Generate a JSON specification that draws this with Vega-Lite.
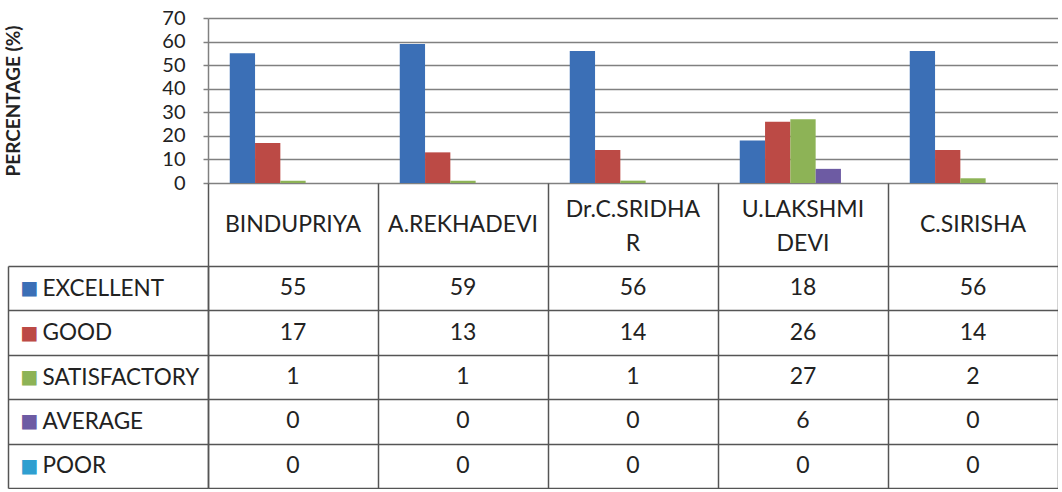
{
  "$schema": "https://vega.github.io/schema/vega-lite/v6.json",
  "padding": {"left": 4, "top": 8, "right": 0, "bottom": 0},
  "background": "white",
  "config": {"font": "Lato", "view": {"stroke": null}},
  "datasets": {
    "scores": [
      {"category": "BINDUPRIYA", "series": "EXCELLENT", "value": 55},
      {"category": "BINDUPRIYA", "series": "GOOD", "value": 17},
      {"category": "BINDUPRIYA", "series": "SATISFACTORY", "value": 1},
      {"category": "BINDUPRIYA", "series": "AVERAGE", "value": 0},
      {"category": "BINDUPRIYA", "series": "POOR", "value": 0},
      {"category": "A.REKHADEVI", "series": "EXCELLENT", "value": 59},
      {"category": "A.REKHADEVI", "series": "GOOD", "value": 13},
      {"category": "A.REKHADEVI", "series": "SATISFACTORY", "value": 1},
      {"category": "A.REKHADEVI", "series": "AVERAGE", "value": 0},
      {"category": "A.REKHADEVI", "series": "POOR", "value": 0},
      {"category": "Dr.C.SRIDHAR", "series": "EXCELLENT", "value": 56},
      {"category": "Dr.C.SRIDHAR", "series": "GOOD", "value": 14},
      {"category": "Dr.C.SRIDHAR", "series": "SATISFACTORY", "value": 1},
      {"category": "Dr.C.SRIDHAR", "series": "AVERAGE", "value": 0},
      {"category": "Dr.C.SRIDHAR", "series": "POOR", "value": 0},
      {"category": "U.LAKSHMI DEVI", "series": "EXCELLENT", "value": 18},
      {"category": "U.LAKSHMI DEVI", "series": "GOOD", "value": 26},
      {"category": "U.LAKSHMI DEVI", "series": "SATISFACTORY", "value": 27},
      {"category": "U.LAKSHMI DEVI", "series": "AVERAGE", "value": 6},
      {"category": "U.LAKSHMI DEVI", "series": "POOR", "value": 0},
      {"category": "C.SIRISHA", "series": "EXCELLENT", "value": 56},
      {"category": "C.SIRISHA", "series": "GOOD", "value": 14},
      {"category": "C.SIRISHA", "series": "SATISFACTORY", "value": 2},
      {"category": "C.SIRISHA", "series": "AVERAGE", "value": 0},
      {"category": "C.SIRISHA", "series": "POOR", "value": 0}
    ],
    "header": [
      {"category": "BINDUPRIYA", "label": "BINDUPRIYA", "lines": 1},
      {"category": "A.REKHADEVI", "label": "A.REKHADEVI", "lines": 1},
      {"category": "Dr.C.SRIDHAR", "label": "Dr.C.SRIDHA\nR", "lines": 2},
      {"category": "U.LAKSHMI DEVI", "label": "U.LAKSHMI\nDEVI", "lines": 2},
      {"category": "C.SIRISHA", "label": "C.SIRISHA", "lines": 1}
    ]
  },
  "spacing": 0,
  "bounds": "flush",
  "vconcat": [
    {
      "width": 850,
      "height": 165,
      "data": {"name": "scores"},
      "mark": {"type": "bar"},
      "encoding": {
        "x": {"field": "category", "type": "nominal", "sort": null,
              "scale": {"domain": ["BINDUPRIYA", "A.REKHADEVI", "Dr.C.SRIDHAR", "U.LAKSHMI DEVI", "C.SIRISHA"], "paddingInner": 0, "paddingOuter": 0},
              "axis": null},
        "xOffset": {"field": "series", "type": "nominal",
                    "scale": {"domain": ["EXCELLENT", "GOOD", "SATISFACTORY", "AVERAGE", "POOR"], "paddingInner": 0, "paddingOuter": 0.86}},
        "y": {"field": "value", "type": "quantitative",
              "scale": {"domain": [0, 70], "nice": false},
              "axis": {"values": [0, 10, 20, 30, 40, 50, 60, 70], "grid": true, "gridColor": "#808080", "gridWidth": 1.5,
                       "domain": true, "domainColor": "#808080", "domainWidth": 1.5,
                       "ticks": true, "tickColor": "#808080", "tickSize": 5, "tickWidth": 1.5,
                       "labelFontSize": 20, "labelColor": "#222222", "labelPadding": 18,
                       "title": "PERCENTAGE (%)", "titleFontSize": 19, "titleFontWeight": "bold", "titleColor": "#222222",
                       "titleX": -195, "titleY": 82.5, "titleBaseline": "middle", "titleAngle": -90}},
        "color": {"field": "series", "type": "nominal",
                  "scale": {"domain": ["EXCELLENT", "GOOD", "SATISFACTORY", "AVERAGE", "POOR"],
                            "range": ["#3b6fb6", "#bc4a45", "#8db356", "#6d5ba3", "#2f9fd0"]},
                  "legend": null}
      }
    },
    {
      "width": 850,
      "height": 83,
      "data": {"name": "header"},
      "encoding": {
        "x": {"field": "category", "type": "nominal", "sort": null,
              "scale": {"domain": ["BINDUPRIYA", "A.REKHADEVI", "Dr.C.SRIDHAR", "U.LAKSHMI DEVI", "C.SIRISHA"], "paddingInner": 0, "paddingOuter": 0},
              "axis": {"title": null, "labels": false, "ticks": false, "domain": false, "grid": true, "tickBand": "extent", "gridColor": "#555555", "gridWidth": 1.5}},
        "text": {"field": "label", "type": "nominal"}
      },
      "layer": [
        {
          "transform": [{"filter": "datum.lines === 1"}],
          "mark": {"type": "text", "fontSize": 23, "color": "#222222"}
        },
        {
          "transform": [{"filter": "datum.lines === 2"}],
          "mark": {"type": "text", "fontSize": 23, "lineBreak": "\n", "lineHeight": 34, "dy": -15, "color": "#222222"}
        }
      ]
    },
    {
      "width": 850,
      "height": 222,
      "data": {"name": "scores"},
      "layer": [
        {
          "mark": {"type": "text", "fontSize": 23, "color": "#222222"},
          "encoding": {
            "x": {"field": "category", "type": "nominal", "sort": null,
                  "scale": {"domain": ["BINDUPRIYA", "A.REKHADEVI", "Dr.C.SRIDHAR", "U.LAKSHMI DEVI", "C.SIRISHA"], "paddingInner": 0, "paddingOuter": 0},
                  "axis": {"title": null, "labels": false, "ticks": false, "domain": false, "grid": true, "tickBand": "extent", "gridColor": "#555555", "gridWidth": 1.5}},
            "y": {"field": "series", "type": "nominal", "sort": null,
                  "scale": {"domain": ["EXCELLENT", "GOOD", "SATISFACTORY", "AVERAGE", "POOR"], "paddingInner": 0, "paddingOuter": 0},
                  "axis": {"orient": "left", "title": null, "tickBand": "extent", "grid": true, "gridColor": "#555555", "gridWidth": 1.5,
                           "ticks": true, "tickSize": 200, "tickColor": "#555555", "tickWidth": 1.5,
                           "domain": true, "domainColor": "#555555", "domainWidth": 1.5,
                           "labelAlign": "left", "labelBaseline": "middle", "labelPadding": -34, "labelFontSize": 22.5, "labelColor": "#222222"}},
            "text": {"field": "value", "type": "quantitative"}
          }
        },
        {
          "mark": {"type": "point", "opacity": 0},
          "encoding": {
            "x": {"field": "category", "type": "nominal", "sort": null,
                  "scale": {"domain": ["BINDUPRIYA", "A.REKHADEVI", "Dr.C.SRIDHAR", "U.LAKSHMI DEVI", "C.SIRISHA"], "paddingInner": 0, "paddingOuter": 0},
                  "axis": {"title": null, "labels": false, "ticks": false, "domain": false, "grid": true, "tickBand": "extent", "gridColor": "#555555", "gridWidth": 1.5}},
            "y": {"field": "series", "type": "nominal", "sort": null,
                  "scale": {"domain": ["EXCELLENT", "GOOD", "SATISFACTORY", "AVERAGE", "POOR"], "paddingInner": 0, "paddingOuter": 0},
                  "axis": {"orient": "left", "offset": 200, "title": null, "grid": false, "ticks": false,
                           "domain": true, "domainColor": "#555555", "domainWidth": 1.5,
                           "labelExpr": "'■'", "labelAlign": "left", "labelBaseline": "middle", "labelPadding": -12,
                           "labelFontSize": 19, "labelFont": "DejaVu Sans",
                           "labelColor": {"condition": [
                             {"test": "datum.value === 'EXCELLENT'", "value": "#3b6fb6"},
                             {"test": "datum.value === 'GOOD'", "value": "#bc4a45"},
                             {"test": "datum.value === 'SATISFACTORY'", "value": "#8db356"},
                             {"test": "datum.value === 'AVERAGE'", "value": "#6d5ba3"}
                           ], "value": "#2f9fd0"}}}
          }
        }
      ],
      "resolve": {"axis": {"y": "independent"}}
    }
  ]
}
